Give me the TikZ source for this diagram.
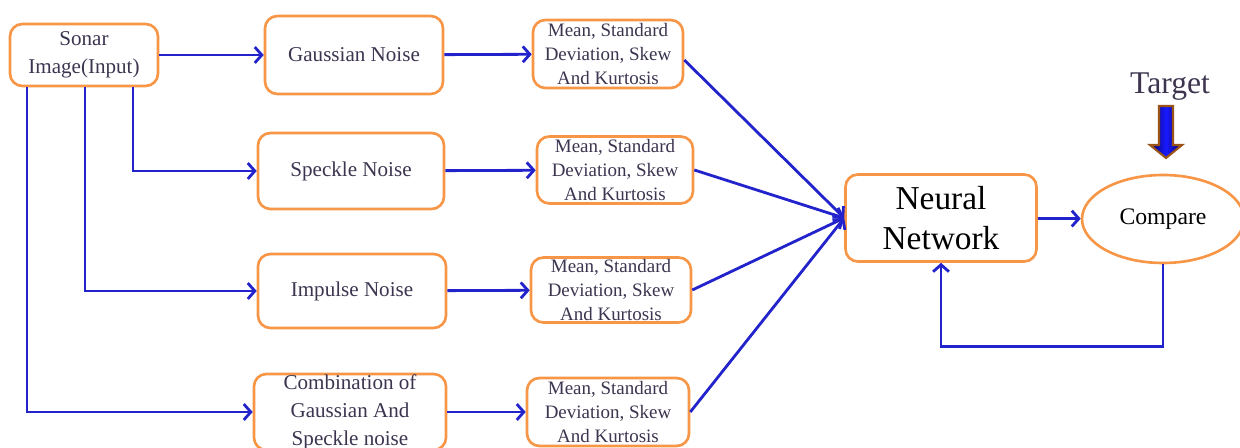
\documentclass[tikz,border=0pt]{standalone}
\usepackage{fontspec}
\setmainfont{Liberation Serif}
\usetikzlibrary{calc}
\usetikzlibrary{shapes.geometric}
\usetikzlibrary{arrows.meta}
\definecolor{boxorange}{HTML}{F79646}
\definecolor{linkblue}{HTML}{2323CC}
\definecolor{txtgray}{HTML}{3D3550}
\definecolor{arrowbrown}{HTML}{9A5418}
\tikzstyle{box} = [rectangle, draw=boxorange, rounded corners=7pt, line width=1.5pt,
    fill=white, text=txtgray, align=center, inner sep=0pt,
    font=\fontsize{12}{15.9}\selectfont]
\tikzstyle{stat} = [box, font=\fontsize{10.8}{13.6}\selectfont]
\tikzstyle{cmp} = [ellipse, draw=boxorange, line width=1.5pt, fill=white,
    font=\fontsize{13.5}{16}\selectfont, inner sep=0pt]
\tikzstyle{line} = [draw=linkblue, line width=1.6pt, -{Straight Barb[length=4pt,width=9pt]}]

\begin{document}
\begin{tikzpicture}[x=0.02cm, y=-0.02cm]
    \useasboundingbox (0,0) rectangle (1240,448);
    % Place nodes
    \node [box, minimum width=2.96cm, minimum height=1.24cm] (input) at (84,55) {Sonar\\Image(Input)};
    \node [box, minimum width=3.56cm, minimum height=1.56cm] (gauss) at (354,55) {Gaussian Noise};
    \node [box, minimum width=3.72cm, minimum height=1.52cm] (speckle) at (351,171) {Speckle Noise};
    \node [box, minimum width=3.76cm, minimum height=1.48cm] (impulse) at (352,291) {Impulse Noise};
    \node [box, minimum width=3.84cm, minimum height=1.52cm] (combo) at (350,412) {Combination of\\Gaussian And\\Speckle noise};
    \node [stat, minimum width=3.00cm, minimum height=1.36cm] (s1) at (608,54) {Mean, Standard\\Deviation, Skew\\And Kurtosis};
    \node [stat, minimum width=3.12cm, minimum height=1.34cm] (s2) at (615,170) {Mean, Standard\\Deviation, Skew\\And Kurtosis};
    \node [stat, minimum width=3.20cm, minimum height=1.30cm] (s3) at (611,290) {Mean, Standard\\Deviation, Skew\\And Kurtosis};
    \node [stat, minimum width=3.24cm, minimum height=1.36cm] (s4) at (608,412) {Mean, Standard\\Deviation, Skew\\And Kurtosis};
    \node [box, text=black, minimum width=3.82cm, minimum height=1.74cm,
        font=\fontsize{19}{23}\selectfont] (nn) at (941,218) {Neural\\Network};
    \node [cmp, minimum width=3.24cm, minimum height=1.76cm] (compare) at (1163,219) {Compare};
    \node [text=txtgray, font=\fontsize{18}{20}\selectfont] (target) at (1170,87) {Target};
    % Draw target arrow
    \shade [left color=blue!40!black, right color=blue!40!black, middle color=blue!90!white, draw=arrowbrown, line width=1.2pt]
        (1159,106) -- (1173,106) -- (1173,145) -- (1182,145) -- (1166,158) -- (1150,145) -- (1159,145) -- cycle;
    % Draw edges
    \path [line] (input) -- (gauss);
    \path [line] ([xshift=0.98cm]input.south) |- (speckle);
    \path [line] ([xshift=0.02cm]input.south) |- (impulse);
    \path [line] ([xshift=-1.14cm]input.south) |- (combo);
    \path [line] (gauss) -- (s1);
    \path [line] (speckle) -- (s2);
    \path [line] (impulse) -- (s3);
    \path [line] (combo) -- (s4);
    \path [line] ([yshift=-0.12cm]s1.east) -- (nn.west);
    \path [line] (s2.east) -- (nn.west);
    \path [line] (s3.east) -- (nn.west);
    \path [line] (s4.east) -- (nn.west);
    \path [line] (nn) -- (compare);
    \path [line] (compare.south) -- ++(0,82) -| (nn.south);
\end{tikzpicture}
\end{document}
